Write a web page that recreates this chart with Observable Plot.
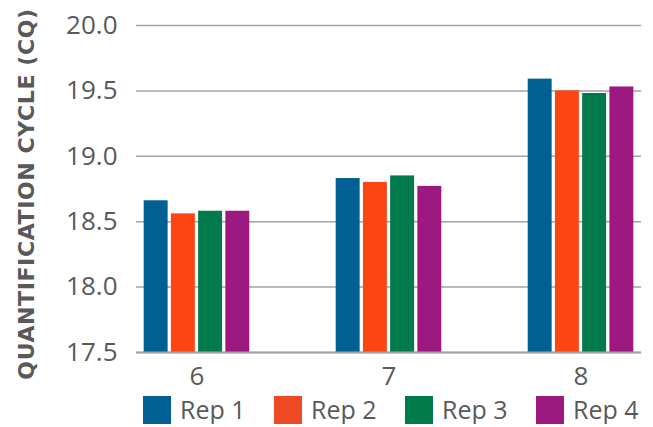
<!DOCTYPE html>
<html>
<head>
<meta charset="utf-8">
<script src="https://cdn.jsdelivr.net/npm/d3@7"></script>
<script src="https://cdn.jsdelivr.net/npm/@observablehq/plot@0.6"></script>
<style>
  html, body { margin: 0; padding: 0; background: #fff; }
  #chart { width: 653px; }
  #chart svg { display: block; }
  .legend { display: flex; align-items: center; height: 30px; padding-left: 143px; margin-top: 2px; font-family: "Open Sans", sans-serif; font-size: 25px; color: #595959; }
  .legend .item { display: flex; align-items: center; flex: none; width: 131px; white-space: nowrap; }
  .legend .item:last-child { width: auto; }
  .legend .swatch { width: 28px; height: 28px; margin-right: 9px; flex: none; position: relative; top: 1px; }
  .legend .label { line-height: 30px; }
</style>
</head>
<body>
<div id="chart"></div>
<script>
// Dilution points along the x axis and the four replicates within each
const groups = ["6", "7", "8"];
const reps = ["Rep 1", "Rep 2", "Rep 3", "Rep 4"];

// Quantification cycle (Cq) per replicate, one array per dilution point
const cq6 = [18.66, 18.56, 18.58, 18.58];
const cq7 = [18.83, 18.80, 18.85, 18.77];
const cq8 = [19.59, 19.50, 19.48, 19.53];

const yTicks = [17.5, 18.0, 18.5, 19.0, 19.5, 20.0];
const yTitle = "QUANTIFICATION CYCLE (CQ)";

const barColors = ["#006094", "#fd4513", "#007a4b", "#9c1a80"];
const legendColors = ["#006094", "#ef4b23", "#007a4b", "#9c1a80"];

// Long-form table for the grouped bars
const series = [cq6, cq7, cq8];
const data = groups.flatMap((g, gi) =>
  reps.map((r, ri) => ({ group: g, rep: r, value: series[gi][ri] }))
);
const baseline = yTicks[0];

// Frame geometry and band layout: groups on x, replicates nested inside each band
const W = 653, H = 392, mL = 136, mR = 12, mT = 25, mB = 40;
const groupPadInner = 0.45, groupPadOuter = 0.04;
const groupBand = d3.scaleBand(groups, [mL, W - mR]).paddingInner(groupPadInner).paddingOuter(groupPadOuter);
const bw = groupBand.bandwidth();
const repBand = d3.scaleBand(reps, [0, bw]).paddingInner(0.12).paddingOuter(0);

const bars = reps.map((r, i) => {
  const left = repBand(r);
  const right = bw - left - repBand.bandwidth();
  return Plot.barY(data.filter(d => d.rep === r), {
    x: "group", y1: baseline, y2: "value", fill: "rep",
    insetLeft: left, insetRight: right
  });
});

const chart = Plot.plot({
  width: W,
  height: H,
  marginLeft: mL,
  marginRight: mR,
  marginTop: mT,
  marginBottom: mB,
  style: { fontFamily: "Open Sans, sans-serif", fontSize: "26px", color: "#595959", background: "#fff" },
  x: { domain: groups, paddingInner: groupPadInner, paddingOuter: groupPadOuter, round: false, label: null, tickSize: 0, tickPadding: 14 },
  y: { domain: [yTicks[0], yTicks[yTicks.length - 1]], ticks: yTicks, tickFormat: ".1f", tickSize: 0, tickPadding: 19, label: null },
  color: { domain: reps, range: barColors },
  marks: [
    Plot.ruleY(yTicks, { stroke: "#a3a3a3", strokeWidth: 1.5 }),
    ...bars,
    Plot.ruleY([baseline], { stroke: "#a3a3a3", strokeWidth: 2 }),
    Plot.text([yTitle], {
      text: d => d, frameAnchor: "left", textAnchor: "middle", rotate: -90, dx: -110, dy: 5,
      fontWeight: "bold", fontSize: 22, fontFamily: "DejaVu Sans, sans-serif",
      fill: "#595959"
    })
  ]
});

// Title letter spacing
chart.querySelectorAll("text").forEach(t => {
  if (t.textContent === yTitle) t.setAttribute("letter-spacing", "0.6");
});

const root = document.getElementById("chart");
root.appendChild(chart);

// Legend row under the plot
const legend = document.createElement("div");
legend.className = "legend";
reps.forEach((r, i) => {
  const item = document.createElement("div");
  item.className = "item";
  const sw = document.createElement("div");
  sw.className = "swatch";
  sw.style.background = legendColors[i];
  const lab = document.createElement("span");
  lab.className = "label";
  lab.textContent = r;
  item.appendChild(sw);
  item.appendChild(lab);
  legend.appendChild(item);
});
root.appendChild(legend);
</script>
</body>
</html>
